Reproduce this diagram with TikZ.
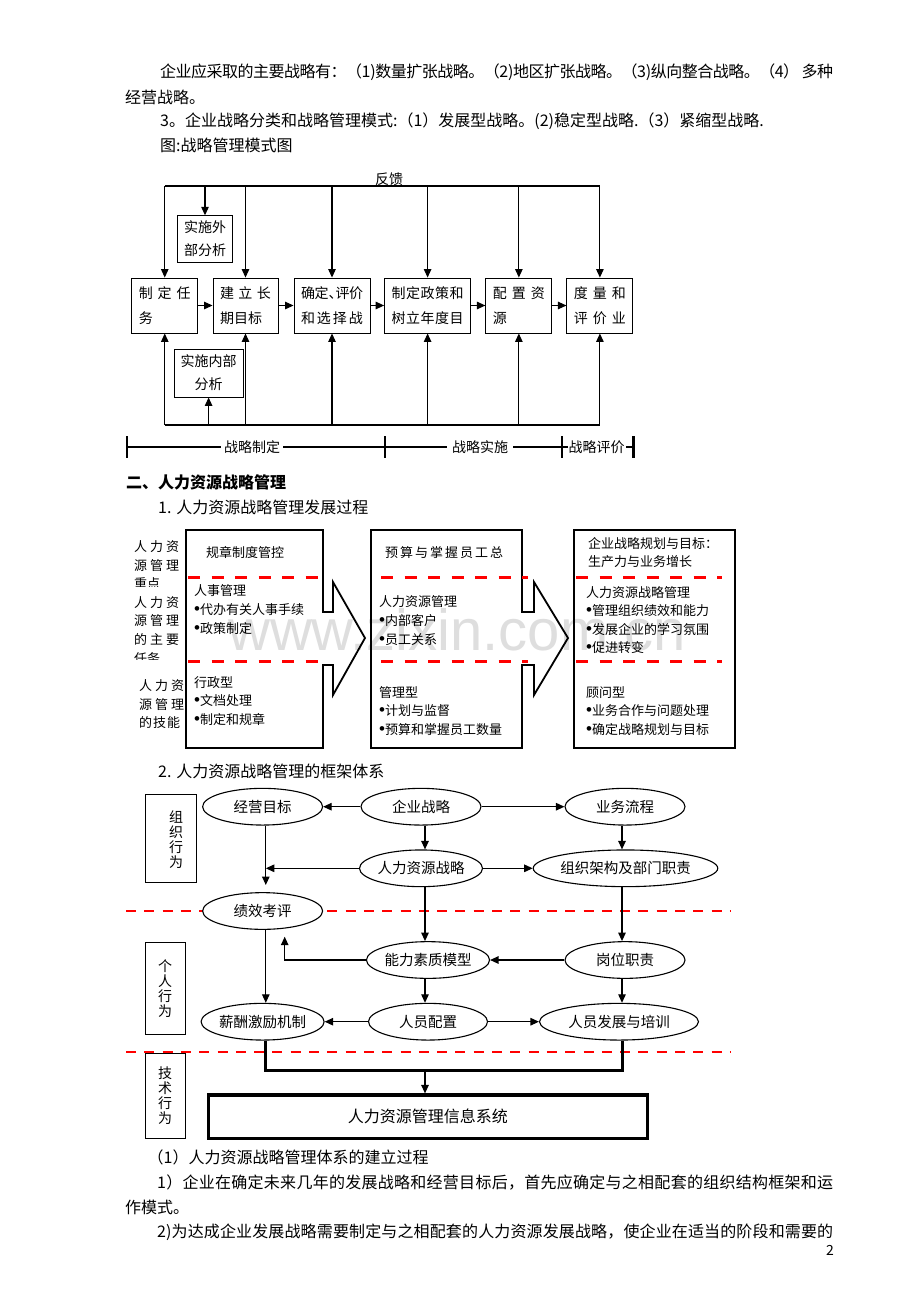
\documentclass[tikz,border=0pt]{standalone}
\usepackage{fontspec}
\setmainfont{Noto Sans CJK SC}
\newfontfamily\markfont{Liberation Sans}
\usetikzlibrary{arrows.meta,shapes.geometric}

% stretchable glue between Han characters, so that a line can be justified
\XeTeXinterchartokenstate=1
\newXeTeXintercharclass\hanclass
\count255="3000
\loop\ifnum\count255<"A000
  \XeTeXcharclass\count255=\hanclass
  \advance\count255 by 1
\repeat
\count255="FF00
\loop\ifnum\count255<"FFF0
  \XeTeXcharclass\count255=\hanclass
  \advance\count255 by 1
\repeat
\XeTeXinterchartoks\hanclass\hanclass={\hskip0pt plus 2pt minus 0.6pt\relax}
\XeTeXinterchartoks 0 \hanclass={\hskip0pt plus 2pt minus 0.6pt\relax}
\XeTeXinterchartoks\hanclass 0 ={\hskip0pt plus 2pt minus 0.6pt\relax}

% round bullet of the lists
\newcommand\dotmark{{\markfont\fontsize{17}{17}\selectfont\char"2022}}

\begin{document}
\begin{tikzpicture}[x=1pt, y=-1pt, >={Triangle[length=8.5pt,width=7.5pt]},
    body/.style={anchor=west, inner sep=0pt, font=\fontsize{16}{16}\selectfont},
    stage/.style={draw, line width=0.9pt, minimum height=55pt, inner xsep=7pt, inner ysep=0pt, align=left, font=\fontsize{14}{25}\selectfont},
    aside/.style={draw, line width=0.9pt, inner sep=0pt, align=center, font=\fontsize{14}{23}\selectfont},
    phase/.style={fill=white, inner xsep=3pt, inner ysep=1pt, font=\fontsize{14}{14}\selectfont},
    txt/.style={anchor=west, inner sep=0pt, align=left, font=\fontsize{13}{18.6}\selectfont},
    lab/.style={anchor=west, inner sep=0pt, align=left, font=\fontsize{13}{18.7}\selectfont},
    oval/.style={ellipse, draw, fill=white, line width=1.1pt, minimum width=120pt, minimum height=36.7pt, inner sep=0pt, font=\fontsize{14.5}{14.5}\selectfont},
    sidebox/.style={draw, line width=1.1pt, inner sep=0pt},
    vtext/.style={align=center, inner sep=0pt, font=\fontsize{14}{15}\selectfont},
    reddash/.style={red, line width=3pt, dash pattern=on 12pt off 11.5pt}]

    \fill[white] (0,0) rectangle (920,1302);
    \useasboundingbox (0,0) rectangle (920,1302);

    % text above the first figure
    \node[body] (p1) at (160,72) {\makebox[673pt][s]{企业应采取的主要战略有：（1)数量扩张战略。（2)地区扩张战略。（3)纵向整合战略。（4） 多种}};
    \node[body] (p2) at (125,97) {经营战略。};
    \node[body] (p3) at (160,121) {3。企业战略分类和战略管理模式:（1）发展型战略。(2)稳定型战略.（3）紧缩型战略.};
    \node[body] (p4) at (160,145) {图:战略管理模式图};

    % stages of the model
    \node[stage, text width=52pt] (s1) at (164.75,305.5) {\makebox[52pt][s]{制定任}\\务};
    \node[stage, text width=51pt] (s2) at (245.5,305.5) {\makebox[51pt][s]{建立长}\\期目标};
    \node[stage, text width=62pt] (s3) at (332,305.5) {\makebox[62pt][s]{确定\makebox[7pt][l]{、}评价}\\\makebox[62pt][s]{和选择战}};
    \node[stage, text width=72pt] (s4) at (427.6,305.5) {\makebox[72pt][s]{制定政策和}\\\makebox[72pt][s]{树立年度目}};
    \node[stage, text width=52pt] (s5) at (518.85,305.5) {\makebox[52pt][s]{配置资}\\源};
    \node[stage, text width=52pt] (s6) at (599.9,305.5) {\makebox[52pt][s]{度量和}\\\makebox[52pt][s]{评价业}};

    \node[aside, minimum width=55pt, minimum height=46.5pt] (ext) at (205,239) {实施外\\部分析};
    \node[aside, minimum width=69pt, minimum height=48pt] (int) at (208.6,373) {实施内部\\分析};

    \coordinate (f0) at (0,186);
    \coordinate (b0) at (0,425);
    \node[inner sep=0pt, font=\fontsize{14}{14}\selectfont] (fb) at (389,179) {反馈};

    \tikzstyle{link}=[->, line width=1.1pt]

    % draw feedback line and its arrows
    \draw[line width=1.1pt] (s1 |- f0) -- (s6 |- f0);
    \draw[link] (s1 |- f0) -- (s1);
    \draw[link] (ext |- f0) -- (ext);
    \draw[link] (s2 |- f0) -- (s2);
    \draw[link] (s3 |- f0) -- (s3);
    \draw[link] (s4 |- f0) -- (s4);
    \draw[link] (s5 |- f0) -- (s5);
    \draw[link] (s6 |- f0) -- (s6);

    % draw bottom line and its arrows
    \draw[line width=1.1pt] (s1 |- b0) -- (s6 |- b0);
    \draw[link] (s1 |- b0) -- (s1);
    \draw[link] (int |- b0) -- (int);
    \draw[link] (s2 |- b0) -- (s2);
    \draw[link] (s3 |- b0) -- (s3);
    \draw[link] (s4 |- b0) -- (s4);
    \draw[link] (s5 |- b0) -- (s5);
    \draw[link] (s6 |- b0) -- (s6);

    % draw steps from left to right
    \draw[link] (s1) -- (s2);
    \draw[link] (s2) -- (s3);
    \draw[link] (s3) -- (s4);
    \draw[link] (s4) -- (s5);
    \draw[link] (s5) -- (s6);

    % draw phase line
    \coordinate (k1) at (127,447);
    \coordinate (k2) at (385,447);
    \coordinate (k3) at (562,447);
    \coordinate (k4) at (633.5,447);
    \draw[line width=1.1pt] (k1) -- (k4);
    \foreach \k in {k1,k2,k3,k4}
        \draw[line width=2.6pt] ([yshift=11pt]\k) -- ([yshift=-11pt]\k);
    \node[phase] (ph1) at (252,447) {战略制定};
    \node[phase, inner xsep=5pt] (ph2) at (480,447) {战略实施};
    \node[phase, inner xsep=1pt] (ph3) at (596.5,447) {战略评价};

    % second part
    \node[body, font=\fontsize{16}{16}\selectfont\bfseries] (q1) at (126,482) {二、人力资源战略管理};
    \node[body] (q2) at (158,507) {1. 人力资源战略管理发展过程};

    % watermark
    \node[font=\markfont\fontsize{58}{58}\selectfont, text=black!13, inner sep=0pt, anchor=base] (wm) at (457,650) {www.zixin.com.cn};

    % draw the three stage boxes
    \draw[line width=1.8pt] (186,530) -- (323,530) -- (323,612) -- (333,612) -- (333,582) -- (365,638) -- (333,695) -- (333,665) -- (323,665) -- (323,748) -- (186,748) -- cycle;
    \draw[line width=1.8pt] (371,530) -- (522,530) -- (522,612) -- (534,612) -- (534,582) -- (568,638) -- (534,695) -- (534,665) -- (522,665) -- (522,748) -- (371,748) -- cycle;
    \draw[line width=1.8pt] (574,530) rectangle (735,748);

    % draw the red separators
    \draw[reddash] (188,577) -- (323,577);
    \draw[reddash] (381,577) -- (528,577);
    \draw[reddash] (576,577) -- (722,577);
    \draw[reddash] (188,661) -- (323,661);
    \draw[reddash] (381,661) -- (528,661);
    \draw[reddash] (576,661) -- (722,661);

    % row labels on the left
    \begin{scope}
        \clip (120,530) rectangle (185,586);
        \node[lab] (h1) at (134,565.3) {\makebox[45pt][s]{人力资}\\\makebox[45pt][s]{源管理}\\重点};
    \end{scope}
    \begin{scope}
        \clip (120,590) rectangle (185,659);
        \node[lab] (h2) at (134,630.3) {\makebox[45pt][s]{人力资}\\\makebox[45pt][s]{源管理}\\\makebox[45pt][s]{的主要}\\任务};
    \end{scope}
    \node[lab] (h3) at (139,704.3) {\makebox[45pt][s]{人力资}\\\makebox[45pt][s]{源管理}\\\makebox[41pt][s]{的技能}};

    \node[txt] (a1) at (206,552) {规章制度管控};
    \node[txt] (a2) at (194,609.5) {人事管理\\\dotmark 代办有关人事手续\\\dotmark 政策制定};
    \node[txt] (a3) at (194,701) {行政型\\\dotmark 文档处理\\\dotmark 制定和规章};

    \node[txt] (b1) at (385,553) {\makebox[118pt][s]{预算与掌握员工总}};
    \node[txt] (b2) at (379,620.5) {人力资源管理\\\dotmark 内部客户\\\dotmark 员工关系};
    \node[txt] (b3) at (379,711) {管理型\\\dotmark 计划与监督\\\dotmark 预算和掌握员工数量};

    \node[txt] (c1) at (588,552.5) {企业战略规划与目标：\\生产力与业务增长};
    \node[txt] (c2) at (586,620) {人力资源战略管理\\\dotmark 管理组织绩效和能力\\\dotmark 发展企业的学习氛围\\\dotmark 促进转变};
    \node[txt] (c3) at (586,711) {顾问型\\\dotmark 业务合作与问题处理\\\dotmark 确定战略规划与目标};

    % third part
    \node[body] (q3) at (158,771) {2. 人力资源战略管理的框架体系};

    \draw[reddash, line width=2.2pt, dash pattern=on 10pt off 8.3pt] (126,911) -- (730,911);
    \draw[reddash, line width=2.2pt, dash pattern=on 10pt off 8.3pt] (126,1052.3) -- (730,1052.3);

    \node[sidebox, minimum width=51pt, minimum height=88.4pt] (g1) at (170.8,838.5) {};
    \node[vtext] (v1) at (176,839.2) {组\\织\\行\\为};
    \node[sidebox, minimum width=39.7pt, minimum height=91.7pt] (g2) at (165.2,988.2) {};
    \node[vtext] (v2) at (165,988.9) {个\\人\\行\\为};
    \node[sidebox, minimum width=39.7pt, minimum height=85pt] (g3) at (165.2,1095.8) {};
    \node[vtext] (v3) at (165,1095.8) {技\\术\\行\\为};

    \node[oval] (e1) at (262.6,806.7) {经营目标};
    \node[oval] (e2) at (421,806.7) {企业战略};
    \node[oval] (e3) at (625,806.7) {业务流程};
    \node[oval] (e4) at (421,868.3) {人力资源战略};
    \node[oval, minimum width=184pt] (e5) at (625.5,868.3) {组织架构及部门职责};
    \node[oval] (e6) at (262.6,911) {绩效考评};
    \node[oval, minimum width=119pt] (e7) at (428,960) {能力素质模型};
    \node[oval] (e8) at (625,960) {岗位职责};
    \node[oval] (e9) at (262.6,1021.7) {薪酬激励机制};
    \node[oval, minimum width=119pt] (e10) at (428,1021.7) {人员配置};
    \node[oval, minimum width=159pt] (e11) at (619,1021.7) {人员发展与培训};

    \node[draw, line width=3.2pt, minimum width=439pt, minimum height=43.3pt, inner sep=0pt, font=\fontsize{16}{16}\selectfont] (sys) at (427.85,1116.65) {人力资源管理信息系统};

    \coordinate (lx) at (265.8,0);
    \coordinate (mx) at (425,0);
    \coordinate (rx) at (622,0);
    \coordinate (g6) at (265.8,885);
    \coordinate (g7) at (284.7,936.7);
    \coordinate (bl) at (265.8,1070);
    \coordinate (br) at (622,1070);

    \tikzstyle{link}=[->, line width=1.2pt]

    % draw strategy level
    \draw[link] (e2) -- (e1);
    \draw[link] (e2) -- (e3);
    \draw[link] (e2.south -| mx) -- (e4.north -| mx);
    \draw[link] (e3.south -| rx) -- (e5.north -| rx);
    \draw[link] (e4) -- (e5);
    \draw[link] (e4) -- (e4 -| lx);
    \draw[link] (e1.south -| lx) -- (g6);

    % draw personal level
    \draw[link] (e4.south -| mx) -- (e7.north -| mx);
    \draw[link] (e5.south -| rx) -- (e8.north -| rx);
    \draw[link] (e8) -- (e7);
    \draw[link] (e7) -| (g7);
    \draw[link] (e6.south -| lx) -- (e9.north -| lx);
    \draw[link] (e7.south -| mx) -- (e10.north -| mx);
    \draw[link] (e8.south -| rx) -- (e11.north -| rx);
    \draw[link] (e10) -- (e9);
    \draw[link] (e10) -- (e11);

    % draw link down to the information system
    \draw[line width=3pt] (e9.south -| lx) -- (bl) -- (br) -- (e11.south -| rx);
    \draw[link] (mx |- bl) -- (sys.north -| mx);

    % text below the figures
    \node[body] (r1) at (147.5,1157) {（1）人力资源战略管理体系的建立过程};
    \node[body] (r2) at (157,1182) {\makebox[676pt][s]{1）企业在确定未来几年的发展战略和经营目标后，首先应确定与之相配套的组织结构框架和运}};
    \node[body] (r3) at (125,1207) {作模式。};
    \node[body] (r4) at (157,1232) {\makebox[676pt][s]{2)为达成企业发展战略需要制定与之相配套的人力资源发展战略，使企业在适当的阶段和需要的}};
    \node[inner sep=0pt, anchor=east, font=\fontsize{14}{14}\selectfont] (pg) at (834,1250) {2};

\end{tikzpicture}
\end{document}
